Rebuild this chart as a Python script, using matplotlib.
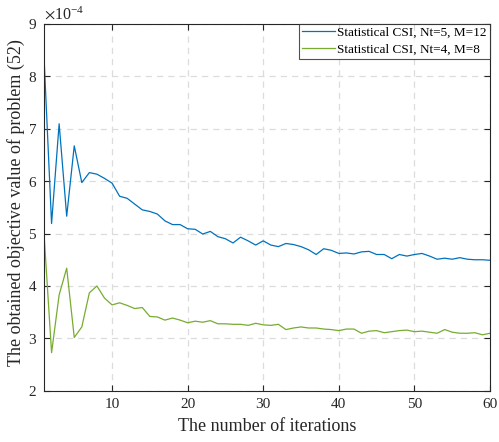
import matplotlib
matplotlib.use("Agg")
import matplotlib.pyplot as plt
from matplotlib.ticker import ScalarFormatter

plt.rcParams['font.family'] = ['Liberation Serif', 'DejaVu Serif']
plt.rcParams['mathtext.fontset'] = 'stix'

iterations = list(range(1, 61))
scale = 1e-4
blue_vals = [8.37, 5.19, 7.09, 5.33, 6.67, 5.97, 6.16, 6.13, 6.05, 5.96,
             5.71, 5.67, 5.56, 5.45, 5.42, 5.37, 5.24, 5.17, 5.17, 5.09,
             5.08, 4.99, 5.04, 4.94, 4.90, 4.82, 4.93, 4.86, 4.78, 4.86,
             4.78, 4.75, 4.81, 4.79, 4.75, 4.69, 4.60, 4.71, 4.68, 4.62,
             4.63, 4.61, 4.65, 4.66, 4.60, 4.60, 4.52, 4.60, 4.57, 4.60,
             4.62, 4.57, 4.51, 4.53, 4.51, 4.54, 4.51, 4.50, 4.50, 4.49]
green_vals = [5.00, 2.73, 3.83, 4.34, 3.02, 3.22, 3.87, 4.00, 3.77, 3.64,
              3.68, 3.63, 3.57, 3.59, 3.42, 3.41, 3.35, 3.39, 3.35, 3.30,
              3.33, 3.31, 3.34, 3.28, 3.28, 3.27, 3.27, 3.25, 3.29, 3.26,
              3.25, 3.27, 3.17, 3.20, 3.22, 3.20, 3.20, 3.18, 3.17, 3.15,
              3.18, 3.18, 3.10, 3.14, 3.15, 3.11, 3.13, 3.15, 3.16, 3.13,
              3.14, 3.12, 3.10, 3.17, 3.12, 3.10, 3.10, 3.11, 3.07, 3.10]
labels = ["Statistical CSI, Nt=5, M=12", "Statistical CSI, Nt=4, M=8"]
colors = ["#0072BD", "#77AC30"]
xticks = [10, 20, 30, 40, 50, 60]
yticks = [2, 3, 4, 5, 6, 7, 8, 9]

fig = plt.figure(figsize=(4.99, 4.42), dpi=100)
ax = fig.add_axes([0.0882, 0.1154, 0.8938, 0.8314])

ax.plot(iterations, [v * scale for v in blue_vals], color=colors[0], lw=0.9, label=labels[0])
ax.plot(iterations, [v * scale for v in green_vals], color=colors[1], lw=0.9, label=labels[1])

ax.set_xlim(1, 60)
ax.set_ylim(2 * scale, 9 * scale)
ax.set_xticks(xticks)
ax.set_yticks([t * scale for t in yticks])

fmt = ScalarFormatter(useMathText=True)
fmt.set_powerlimits((-3, 3))
ax.yaxis.set_major_formatter(fmt)
ax.yaxis.get_offset_text().set_fontsize(11.5)
ax.yaxis.get_offset_text().set_color('#262626')

ax.grid(True, linestyle=(0, (5, 4)), color='#dcdcdc', linewidth=0.9)
ax.tick_params(direction='in', top=True, right=True, labelsize=11, colors='#262626',
               length=4, width=0.8, pad=5)
for s in ax.spines.values():
    s.set_color('#262626')
    s.set_linewidth(0.8)

ax.set_xlabel("The number of iterations", fontsize=13, color='#262626', labelpad=5)
ax.set_ylabel("The obtained objective value of problem (52)", fontsize=13, color='#262626')
ax.yaxis.set_label_coords(-0.043, 0.514)

leg = ax.legend(loc='upper right', fontsize=9.5, frameon=True, fancybox=False,
                edgecolor='#262626', handlelength=2.5, handletextpad=0.15,
                borderpad=0.25, labelspacing=0.3, borderaxespad=0.0)
leg.get_frame().set_linewidth(0.8)

fig.savefig("out.png", dpi=100)
